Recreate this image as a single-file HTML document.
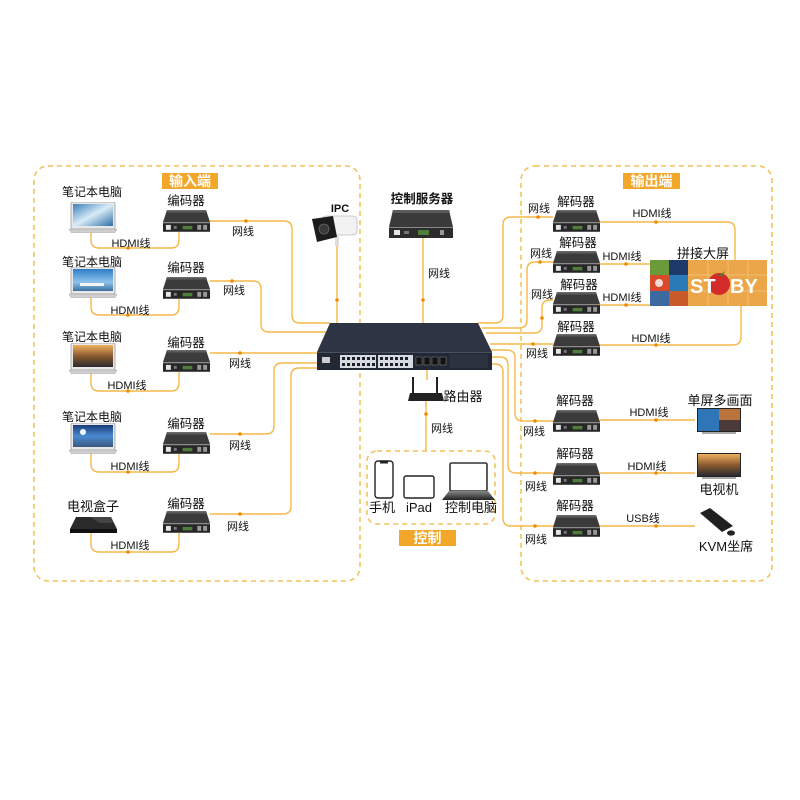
<!DOCTYPE html>
<html><head><meta charset="utf-8"><style>
html,body{margin:0;padding:0;background:#fff;}
svg{display:block;}
text{font-family:"Liberation Sans","Noto Sans CJK SC",sans-serif;fill:#111;}
</style></head><body>
<svg width="800" height="800" viewBox="0 0 800 800" xmlns="http://www.w3.org/2000/svg">
<defs>
<symbol id="dev" viewBox="0 0 48 22">
 <polygon points="4,0 44,0 48,12 0,12" fill="#3b3b3b"/>
 <polygon points="4,0 44,0 45,2.5 3,2.5" fill="#5a5a5a"/>
 <rect x="0" y="12" width="48" height="1.2" fill="#8a8a8a"/>
 <rect x="0" y="13.2" width="48" height="8.8" fill="#262626"/>
 <rect x="3" y="15" width="5" height="5" fill="#e6e6e6"/>
 <rect x="11" y="16" width="3" height="3" fill="#777"/>
 <rect x="20" y="16" width="10" height="3.5" fill="#4f7d3c"/>
 <rect x="35" y="15" width="4" height="5" fill="#999"/>
 <rect x="41" y="15" width="4" height="5" fill="#999"/>
</symbol>
<symbol id="lap" viewBox="0 0 48 31">
 <rect x="2" y="0" width="44" height="27" rx="2" fill="#e8e8e8" stroke="#9a9a9a" stroke-width="0.8"/>
 <path d="M0,27 H48 L46,30.5 H2 Z" fill="#cfcfcf" stroke="#a0a0a0" stroke-width="0.5"/>
</symbol>
<linearGradient id="s1" x1="0" y1="0" x2="1" y2="1"><stop offset="0" stop-color="#3a7fb8"/><stop offset="0.5" stop-color="#d9ecf7"/><stop offset="1" stop-color="#2c6fa6"/></linearGradient>
<linearGradient id="s2" x1="0" y1="0" x2="0" y2="1"><stop offset="0" stop-color="#2f7dc9"/><stop offset="0.6" stop-color="#8cc3ec"/><stop offset="1" stop-color="#3d6f9e"/></linearGradient>
<linearGradient id="s3" x1="0" y1="0" x2="0" y2="1"><stop offset="0" stop-color="#f0b060"/><stop offset="0.5" stop-color="#8a5a30"/><stop offset="1" stop-color="#2a2a30"/></linearGradient>
<linearGradient id="s4" x1="0" y1="0" x2="0" y2="1"><stop offset="0" stop-color="#1a3d7a"/><stop offset="0.5" stop-color="#4a8ad0"/><stop offset="1" stop-color="#3a5a80"/></linearGradient>
<linearGradient id="lapk" x1="0" y1="0" x2="0" y2="1"><stop offset="0" stop-color="#888"/><stop offset="1" stop-color="#222"/></linearGradient>
</defs>

<!-- dashed group boxes -->
<g fill="none" stroke="#f2c45a" stroke-width="1.6" stroke-dasharray="5 4">
 <rect x="34" y="166" width="326" height="415" rx="14"/>
 <rect x="521" y="166" width="251" height="415" rx="14"/>
 <rect x="367" y="451" width="128" height="73" rx="10"/>
</g>

<!-- titles -->
<rect x="162" y="173" width="56" height="16" fill="#f3a72a"/>
<text x="190" y="186" font-size="14" font-weight="bold" text-anchor="middle" style="fill:#fff">输入端</text>
<rect x="623" y="173" width="57" height="16" fill="#f3a72a"/>
<text x="651.5" y="186" font-size="14" font-weight="bold" text-anchor="middle" style="fill:#fff">输出端</text>
<rect x="399" y="530" width="57" height="16" fill="#f3a72a"/>
<text x="427.5" y="543" font-size="14" font-weight="bold" text-anchor="middle" style="fill:#fff">控制</text>

<!-- connectors -->
<g fill="none" stroke="#f5b848" stroke-width="1.4">
 <!-- left HDMI loops -->
 <path d="M91,233 V240 Q91,248 99,248 H171 Q179,248 179,240 V232"/>
 <path d="M91,298 V307 Q91,315 99,315 H171 Q179,315 179,307 V299"/>
 <path d="M91,373 V383 Q91,391 99,391 H171 Q179,391 179,383 V372"/>
 <path d="M91,453 V464 Q91,472 99,472 H171 Q179,472 179,464 V454"/>
 <path d="M91,533 V544 Q91,552 99,552 H171 Q179,552 179,544 V533"/>
 <!-- left network -->
 <path d="M210,221 H284 Q292,221 292,229 V315 Q292,323 300,323 H330"/>
 <path d="M210,281 H253 Q261,281 261,289 V324 Q261,332 269,332 H326"/>
 <path d="M210,353 H318"/>
 <path d="M210,434 H266 Q274,434 274,426 V371 Q274,363 282,363 H318"/>
 <path d="M210,514 H283 Q291,514 291,506 V376 Q291,368 299,368 H318"/>
 <!-- IPC / server / router -->
 <path d="M337,246 V323"/>
 <path d="M423,238 V323"/>
 <path d="M427,370 V380"/>
 <path d="M426,401 V451"/>
 <!-- right network -->
 <path d="M478,323 H495 Q503,323 503,315 V225 Q503,217 511,217 H553"/>
 <path d="M482,328 H519 Q527,328 527,320 V270 Q527,262 535,262 H553"/>
 <path d="M486,333 H534 Q542,333 542,325 V308 Q542,300 550,300 H553"/>
 <path d="M490,344 H553"/>
 <path d="M490,350 H507 Q515,350 515,358 V413 Q515,421 523,421 H553"/>
 <path d="M490,357 H500 Q508,357 508,365 V465 Q508,473 516,473 H553"/>
 <path d="M488,364 H495 Q503,364 503,372 V518 Q503,526 511,526 H553"/>
 <!-- right HDMI -->
 <path d="M600,222 H727 Q735,222 735,230 V260"/>
 <path d="M600,264 H650"/>
 <path d="M600,305 H650"/>
 <path d="M600,345 H733 Q741,345 741,337 V306"/>
 <path d="M600,420 H695"/>
 <path d="M600,473 H695"/>
 <path d="M600,526 H695"/>
</g>
<g fill="#f08c00">
 <circle cx="246" cy="221" r="1.8"/><circle cx="232" cy="281" r="1.8"/><circle cx="240" cy="353" r="1.8"/><circle cx="240" cy="434" r="1.8"/><circle cx="240" cy="514" r="1.8"/>
 <circle cx="128" cy="248" r="1.8"/><circle cx="128" cy="315" r="1.8"/><circle cx="128" cy="391" r="1.8"/><circle cx="128" cy="472" r="1.8"/><circle cx="128" cy="552" r="1.8"/>
 <circle cx="538" cy="217" r="1.8"/><circle cx="540" cy="262" r="1.8"/><circle cx="542" cy="318" r="1.8"/><circle cx="533" cy="344" r="1.8"/>
 <circle cx="535" cy="421" r="1.8"/><circle cx="535" cy="473" r="1.8"/><circle cx="535" cy="526" r="1.8"/>
 <circle cx="656" cy="222" r="1.8"/><circle cx="626" cy="264" r="1.8"/><circle cx="626" cy="305" r="1.8"/><circle cx="656" cy="345" r="1.8"/>
 <circle cx="656" cy="420" r="1.8"/><circle cx="656" cy="473" r="1.8"/><circle cx="656" cy="526" r="1.8"/>
 <circle cx="337" cy="300" r="1.8"/><circle cx="423" cy="300" r="1.8"/><circle cx="426" cy="414" r="1.8"/>
</g>

<!-- left laptops -->
<use href="#lap" x="69" y="202" width="48" height="31"/>
<rect x="73" y="204" width="40" height="22" fill="url(#s1)"/>
<use href="#lap" x="69" y="267" width="48" height="31"/>
<rect x="73" y="269" width="40" height="22" fill="url(#s2)"/>
<rect x="80" y="283" width="24" height="3" fill="#f4f4f4"/>
<use href="#lap" x="69" y="343" width="48" height="31"/>
<rect x="73" y="345" width="40" height="22" fill="url(#s3)"/>
<use href="#lap" x="69" y="423" width="48" height="31"/>
<rect x="73" y="425" width="40" height="22" fill="url(#s4)"/>
<circle cx="83" cy="432" r="3" fill="#fff"/>
<!-- TV box -->
<polygon points="76,517 111,517 117,529 70,529" fill="#2a2a2a"/>
<rect x="70" y="529" width="47" height="4" fill="#111"/>
<polygon points="90,517 111,517 114,523 100,523" fill="#444"/>

<!-- left labels -->
<g font-size="12" text-anchor="middle">
 <text x="92" y="196">笔记本电脑</text>
 <text x="92" y="266">笔记本电脑</text>
 <text x="92" y="341">笔记本电脑</text>
 <text x="92" y="421">笔记本电脑</text>
 <text x="93" y="511" font-size="13">电视盒子</text>
</g>
<g font-size="12.5" text-anchor="middle">
 <text x="186" y="205">编码器</text>
 <text x="186" y="272">编码器</text>
 <text x="186" y="347">编码器</text>
 <text x="186" y="428">编码器</text>
 <text x="186" y="508">编码器</text>
</g>
<g font-size="11" text-anchor="middle">
 <text x="131" y="247">HDMI线</text>
 <text x="130" y="314">HDMI线</text>
 <text x="127" y="389">HDMI线</text>
 <text x="130" y="470">HDMI线</text>
 <text x="130" y="549">HDMI线</text>
 <text x="243" y="235">网线</text>
 <text x="234" y="294">网线</text>
 <text x="240" y="367">网线</text>
 <text x="240" y="449">网线</text>
 <text x="238" y="530">网线</text>
</g>

<!-- encoders -->
<use href="#dev" x="163" y="210" width="47" height="22"/>
<use href="#dev" x="163" y="277" width="47" height="22"/>
<use href="#dev" x="163" y="350" width="47" height="22"/>
<use href="#dev" x="163" y="432" width="47" height="22"/>
<use href="#dev" x="163" y="511" width="47" height="22"/>

<!-- IPC -->
<text x="340" y="212" font-size="11" font-weight="bold" text-anchor="middle">IPC</text>
<rect x="335" y="236" width="4" height="10" fill="#ddd"/>
<rect x="322" y="216" width="35" height="19" rx="4" fill="#f2f2f2" stroke="#bdbdbd" stroke-width="0.8"/>
<polygon points="312,219 333,216 337,237 317,242" fill="#1c1c1c"/>
<circle cx="324" cy="229" r="5" fill="#3a3a3a" stroke="#666" stroke-width="0.8"/>

<!-- control server -->
<text x="422" y="203" font-size="12.5" font-weight="bold" text-anchor="middle">控制服务器</text>
<polygon points="393,210 449,210 453,227 389,227" fill="#3a3a3a"/>
<polygon points="393,210 449,210 450,213 392,213" fill="#5a5a5a"/>
<rect x="389" y="227" width="64" height="11" fill="#2c2c2c"/>
<rect x="389" y="227" width="64" height="1" fill="#888"/>
<rect x="394" y="230" width="6" height="5" fill="#e6e6e6"/>
<rect x="404" y="231" width="5" height="3" fill="#777"/>
<rect x="418" y="230" width="11" height="5" fill="#4f7d3c"/>
<rect x="440" y="230" width="4" height="5" fill="#999"/>
<text x="439" y="277" font-size="11" text-anchor="middle">网线</text>

<!-- switch -->
<polygon points="330,323 478,323 492,352 317,352" fill="#2f3444"/>
<rect x="317" y="352" width="175" height="18" fill="#232836"/>
<rect x="317" y="352" width="175" height="1" fill="#4a5060"/>
<rect x="322" y="357" width="8" height="6" fill="#ccc"/>
<rect x="340" y="355" width="36" height="13" fill="#d7dae0"/>
<rect x="378" y="355" width="35" height="13" fill="#d7dae0"/>
<g fill="#1c1f28">
 <rect x="342" y="357" width="3" height="3"/><rect x="347" y="357" width="3" height="3"/><rect x="352" y="357" width="3" height="3"/><rect x="357" y="357" width="3" height="3"/><rect x="362" y="357" width="3" height="3"/><rect x="367" y="357" width="3" height="3"/><rect x="372" y="357" width="3" height="3"/>
 <rect x="342" y="363" width="3" height="3"/><rect x="347" y="363" width="3" height="3"/><rect x="352" y="363" width="3" height="3"/><rect x="357" y="363" width="3" height="3"/><rect x="362" y="363" width="3" height="3"/><rect x="367" y="363" width="3" height="3"/><rect x="372" y="363" width="3" height="3"/>
 <rect x="380" y="357" width="3" height="3"/><rect x="385" y="357" width="3" height="3"/><rect x="390" y="357" width="3" height="3"/><rect x="395" y="357" width="3" height="3"/><rect x="400" y="357" width="3" height="3"/><rect x="405" y="357" width="3" height="3"/>
 <rect x="380" y="363" width="3" height="3"/><rect x="385" y="363" width="3" height="3"/><rect x="390" y="363" width="3" height="3"/><rect x="395" y="363" width="3" height="3"/><rect x="400" y="363" width="3" height="3"/><rect x="405" y="363" width="3" height="3"/>
</g>
<g fill="#111" stroke="#777" stroke-width="0.6">
 <rect x="416" y="357" width="6" height="8"/><rect x="424" y="357" width="6" height="8"/><rect x="432" y="357" width="6" height="8"/><rect x="440" y="357" width="6" height="8"/>
</g>
<rect x="450" y="354" width="38" height="14" fill="#2d3240"/>

<!-- router -->
<line x1="413" y1="377" x2="413" y2="393" stroke="#222" stroke-width="2"/>
<line x1="437" y1="377" x2="437" y2="393" stroke="#222" stroke-width="2"/>
<polygon points="410,393 442,393 444,401 408,401" fill="#222"/>
<text x="463" y="401" font-size="13" text-anchor="middle">路由器</text>
<text x="442" y="432" font-size="11" text-anchor="middle">网线</text>

<!-- control devices -->
<rect x="375" y="461" width="18" height="37" rx="3" fill="#fff" stroke="#222" stroke-width="1.4"/>
<rect x="380" y="461" width="8" height="2.5" fill="#222"/>
<rect x="404" y="476" width="30" height="22" rx="2" fill="#fff" stroke="#222" stroke-width="1.4"/>
<rect x="450" y="463" width="37" height="28" rx="1.5" fill="#fff" stroke="#333" stroke-width="1.6"/>
<polygon points="449,491 488,491 495,500 442,500" fill="url(#lapk)"/>
<g font-size="13" text-anchor="middle">
 <text x="382" y="512">手机</text>
 <text x="419" y="512">iPad</text>
 <text x="471" y="512">控制电脑</text>
</g>

<!-- decoders -->
<use href="#dev" x="553" y="210" width="47" height="22"/>
<use href="#dev" x="553" y="251" width="47" height="22"/>
<use href="#dev" x="553" y="292" width="47" height="22"/>
<use href="#dev" x="553" y="334" width="47" height="22"/>
<use href="#dev" x="553" y="410" width="47" height="22"/>
<use href="#dev" x="553" y="463" width="47" height="22"/>
<use href="#dev" x="553" y="515" width="47" height="22"/>
<g font-size="12.5" text-anchor="middle">
 <text x="576" y="206">解码器</text>
 <text x="578" y="247">解码器</text>
 <text x="579" y="289">解码器</text>
 <text x="576" y="331">解码器</text>
 <text x="575" y="405">解码器</text>
 <text x="575" y="458">解码器</text>
 <text x="575" y="510">解码器</text>
</g>
<g font-size="11" text-anchor="middle">
 <text x="539" y="212">网线</text>
 <text x="541" y="257">网线</text>
 <text x="542" y="298">网线</text>
 <text x="537" y="357">网线</text>
 <text x="534" y="435">网线</text>
 <text x="536" y="490">网线</text>
 <text x="536" y="543">网线</text>
 <text x="652" y="217">HDMI线</text>
 <text x="622" y="260">HDMI线</text>
 <text x="622" y="301">HDMI线</text>
 <text x="651" y="342">HDMI线</text>
 <text x="649" y="416">HDMI线</text>
 <text x="647" y="470">HDMI线</text>
 <text x="643" y="522">USB线</text>
</g>

<!-- splice screen -->
<text x="703" y="258" font-size="13" text-anchor="middle">拼接大屏</text>
<rect x="650" y="260" width="117" height="46" fill="#e9a23c"/>
<rect x="650" y="260" width="19" height="15" fill="#6a9a3a"/>
<rect x="669" y="260" width="19" height="15" fill="#1e3a6a"/>
<rect x="650" y="275" width="19" height="16" fill="#d84a2a"/>
<circle cx="659" cy="283" r="4" fill="#fff" opacity="0.8"/>
<rect x="669" y="275" width="19" height="16" fill="#2a7ab8"/>
<rect x="650" y="291" width="19" height="15" fill="#3a6aa0"/>
<rect x="669" y="291" width="19" height="15" fill="#c85a2a"/>
<rect x="688" y="260" width="79" height="46" fill="#eba64a"/>
<g stroke="#f6c77a" stroke-width="0.7">
 <line x1="708" y1="260" x2="708" y2="306"/><line x1="728" y1="260" x2="728" y2="306"/><line x1="748" y1="260" x2="748" y2="306"/>
 <line x1="688" y1="275" x2="767" y2="275"/><line x1="688" y1="291" x2="767" y2="291"/>
</g>
<circle cx="719" cy="284" r="11" fill="#d42a2a"/>
<path d="M713,272 L719,276 L725,271 L722,277 Z" fill="#3a8a2a"/>
<text x="690" y="293" font-size="20" font-weight="bold" style="fill:#fff">ST</text>
<text x="730" y="293" font-size="20" font-weight="bold" style="fill:#fff">BY</text>

<!-- multi-view monitor -->
<text x="720" y="405" font-size="13" text-anchor="middle">单屏多画面</text>
<rect x="697" y="408" width="44" height="24" fill="#222"/>
<rect x="698" y="409" width="21" height="22" fill="#2f76b8"/>
<rect x="719" y="409" width="21" height="22" fill="#b8743a"/>
<rect x="719" y="420" width="21" height="11" fill="#4a3a3a"/>
<line x1="702" y1="433" x2="736" y2="433" stroke="#555" stroke-width="1"/>
<!-- TV -->
<rect x="697" y="453" width="44" height="24" fill="#222"/>
<rect x="698" y="454" width="42" height="22" fill="url(#s3)"/>
<line x1="702" y1="478" x2="736" y2="478" stroke="#555" stroke-width="1"/>
<text x="719" y="494" font-size="13" text-anchor="middle">电视机</text>
<!-- KVM -->
<polygon points="700,513 710,508 733,526 722,532" fill="#1f1f1f"/>
<ellipse cx="731" cy="533" rx="4" ry="2.6" fill="#222"/>
<text x="726" y="551" font-size="13" text-anchor="middle">KVM坐席</text>
</svg>
</body></html>
